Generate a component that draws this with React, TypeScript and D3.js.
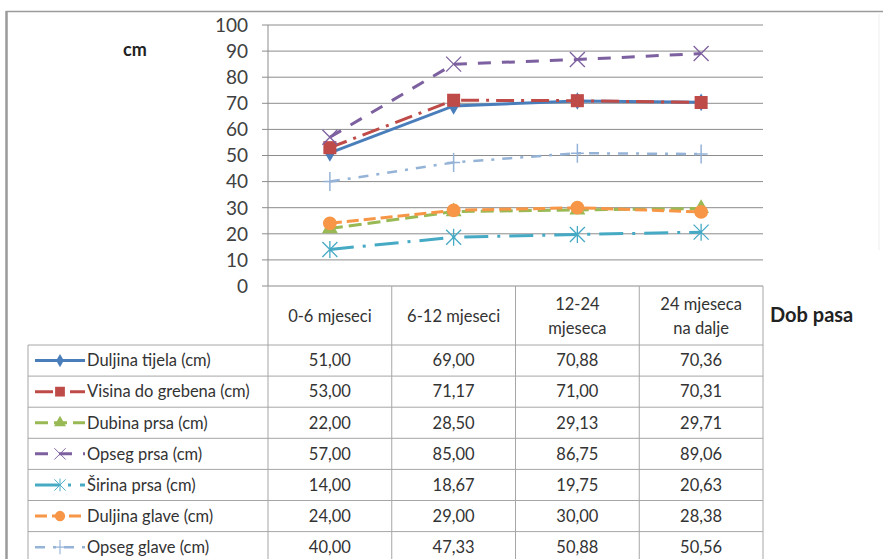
import { scaleBand, scaleLinear, line, symbol, symbolDiamond, symbolSquare, symbolTriangle, symbolCircle } from "d3";

const categories = ["0-6 mjeseci", "6-12 mjeseci", "12-24 mjeseca", "24 mjeseca na dalje"];
const headerLines = [["0-6 mjeseci"], ["6-12 mjeseci"], ["12-24", "mjeseca"], ["24 mjeseca", "na dalje"]];
const yTicks = [0, 10, 20, 30, 40, 50, 60, 70, 80, 90, 100];

const seriesNames = [
  "Duljina tijela (cm)",
  "Visina do grebena (cm)",
  "Dubina prsa (cm)",
  "Opseg prsa (cm)",
  "Širina prsa (cm)",
  "Duljina glave (cm)",
  "Opseg glave (cm)",
];

const duljinaTijela = [51.0, 69.0, 70.88, 70.36];
const visinaDoGrebena = [53.0, 71.17, 71.0, 70.31];
const dubinaPrsa = [22.0, 28.5, 29.13, 29.71];
const opsegPrsa = [57.0, 85.0, 86.75, 89.06];
const sirinaPrsa = [14.0, 18.67, 19.75, 20.63];
const duljinaGlave = [24.0, 29.0, 30.0, 28.38];
const opsegGlave = [40.0, 47.33, 50.88, 50.56];

const seriesValues = [duljinaTijela, visinaDoGrebena, dubinaPrsa, opsegPrsa, sirinaPrsa, duljinaGlave, opsegGlave];

type Style = { color: string; dash: string; width: number; marker: string };

const styles: Style[] = [
  { color: "#4A7EBB", dash: "", width: 3, marker: "diamond" },
  { color: "#BE4B48", dash: "18,7,3,7", width: 3, marker: "square" },
  { color: "#98B954", dash: "13,6", width: 3, marker: "triangle" },
  { color: "#7D60A0", dash: "13,11", width: 3, marker: "x" },
  { color: "#46AAC5", dash: "24,9,3,9", width: 3, marker: "star" },
  { color: "#F79646", dash: "12,5", width: 3, marker: "circle" },
  { color: "#95B3D7", dash: "10,8,3,8", width: 2.5, marker: "plus" },
];

const FONT = "Lato, 'Open Sans', sans-serif";
const GRID = "#8c8c8c";
const TABLE = "#a6a6a6";

const fmt = (v: number) => v.toFixed(2).replace(".", ",");

function Marker({ kind, color, x, y }: { kind: string; color: string; x: number; y: number }) {
  const t = `translate(${x},${y})`;
  if (kind === "diamond") return <path transform={t} d={symbol(symbolDiamond, 90)()!} fill={color} />;
  if (kind === "square") return <path transform={t} d={symbol(symbolSquare, 170)()!} fill={color} />;
  if (kind === "triangle") return <path transform={t} d={symbol(symbolTriangle, 110)()!} fill={color} />;
  if (kind === "circle") return <path transform={t} d={symbol(symbolCircle, 150)()!} fill={color} />;
  const s = 7.5;
  if (kind === "x")
    return <path transform={t} d={`M${-s},${-s}L${s},${s}M${-s},${s}L${s},${-s}`} stroke={color} strokeWidth={1.3} fill="none" />;
  if (kind === "star")
    return (
      <path
        transform={t}
        d={`M${-s},${-s}L${s},${s}M${-s},${s}L${s},${-s}M0,${-s - 1}L0,${s + 1}`}
        stroke={color}
        strokeWidth={1.3}
        fill="none"
      />
    );
  return <path transform={t} d={`M0,${-s - 2}L0,${s + 2}M${-s + 1},0L${s - 1},0`} stroke={color} strokeWidth={1.5} fill="none" />;
}

export default function App() {
  const width = 883;
  const height = 559;

  const x = scaleBand<string>().domain(categories).range([268, 763]);
  const y = scaleLinear().domain([0, 100]).range([286, 25]);
  const cx = (c: string) => x(c)! + x.bandwidth() / 2;

  const headerBottom = 345;
  const rowH = 31.1;
  const legendLeft = 28;
  const tableRight = x.range()[1];
  const tableLeft = x.range()[0];

  const lineGen = line<{ c: string; v: number }>()
    .x((d) => cx(d.c))
    .y((d) => y(d.v));

  return (
    <svg
      width={width}
      height={height}
      style={{ position: "absolute", left: 0, top: 0, background: "#fff" }}
      fontFamily={FONT}
    >
      {/* outer frame */}
      <line x1={6.5} x2={6.5} y1={11} y2={height} stroke="#9a9a9a" strokeWidth={2.5} />
      <line x1={6} x2={width} y1={11.5} y2={11.5} stroke="#9a9a9a" strokeWidth={1.5} />

      <text x={135} y={56} textAnchor="middle" fontSize={18} fontWeight="bold" fill="#222">cm</text>

      {/* grid + y ticks */}
      {yTicks.map((t) => (
        <g key={t}>
          <line x1={262} x2={tableRight} y1={y(t)} y2={y(t)} stroke={GRID} strokeWidth={1} />
          <text x={248} y={y(t)} dy="0.36em" textAnchor="end" fontSize={19} fill="#404040">
            {t}
          </text>
        </g>
      ))}
      <line x1={tableLeft} x2={tableLeft} y1={y(100)} y2={y(0)} stroke={GRID} strokeWidth={1} />

      {/* data table */}
      {categories.map((c, i) => (
        <g key={c}>
          <line x1={x(c)! + x.bandwidth()} x2={x(c)! + x.bandwidth()} y1={y(0)} y2={height} stroke={TABLE} />
          {headerLines[i].map((ln, j) => (
            <text
              key={j}
              x={cx(c)}
              y={headerLines[i].length === 1 ? 322 : 310 + j * 24}
              textAnchor="middle"
              fontSize={16.5}
              fill="#333"
            >
              {ln}
            </text>
          ))}
        </g>
      ))}
      <line x1={tableLeft} x2={tableLeft} y1={y(0)} y2={height} stroke={TABLE} />
      <line x1={legendLeft} x2={legendLeft} y1={headerBottom} y2={height} stroke={TABLE} />
      <line x1={legendLeft} x2={tableRight} y1={headerBottom} y2={headerBottom} stroke={TABLE} />

      {seriesNames.map((name, r) => {
        const top = headerBottom + r * rowH;
        const mid = top + rowH / 2;
        const st = styles[r];
        return (
          <g key={name}>
            <line x1={legendLeft} x2={tableRight} y1={top + rowH} y2={top + rowH} stroke={TABLE} />
            <line x1={35} x2={85} y1={mid} y2={mid} stroke={st.color} strokeWidth={st.width} strokeDasharray={st.dash} />
            <g transform={`translate(60,${mid}) scale(0.75) translate(-60,${-mid})`}>
              <Marker kind={st.marker} color={st.color} x={60} y={mid} />
            </g>
            <text x={87} y={mid} dy="0.35em" fontSize={16.5} fill="#333">
              {name}
            </text>
            {seriesValues[r].map((v, i) => (
              <text key={i} x={cx(categories[i])} y={mid} dy="0.35em" textAnchor="middle" fontSize={16.5} fill="#333">
                {fmt(v)}
              </text>
            ))}
          </g>
        );
      })}

      <text x={770} y={322} fontSize={20} fontWeight="bold" fill="#222">Dob pasa</text>

      {/* series lines */}
      {seriesValues.map((vals, r) => {
        const st = styles[r];
        const pts = vals.map((v, i) => ({ c: categories[i], v }));
        return (
          <g key={r}>
            <path d={lineGen(pts)!} fill="none" stroke={st.color} strokeWidth={st.width} strokeDasharray={st.dash} />
            {pts.map((p, i) => (
              <Marker key={i} kind={st.marker} color={st.color} x={cx(p.c)} y={y(p.v)} />
            ))}
          </g>
        );
      })}

      {/* faint right frame */}
      <line x1={879} x2={879} y1={14} y2={250} stroke="#eee" strokeWidth={1} />
    </svg>
  );
}
